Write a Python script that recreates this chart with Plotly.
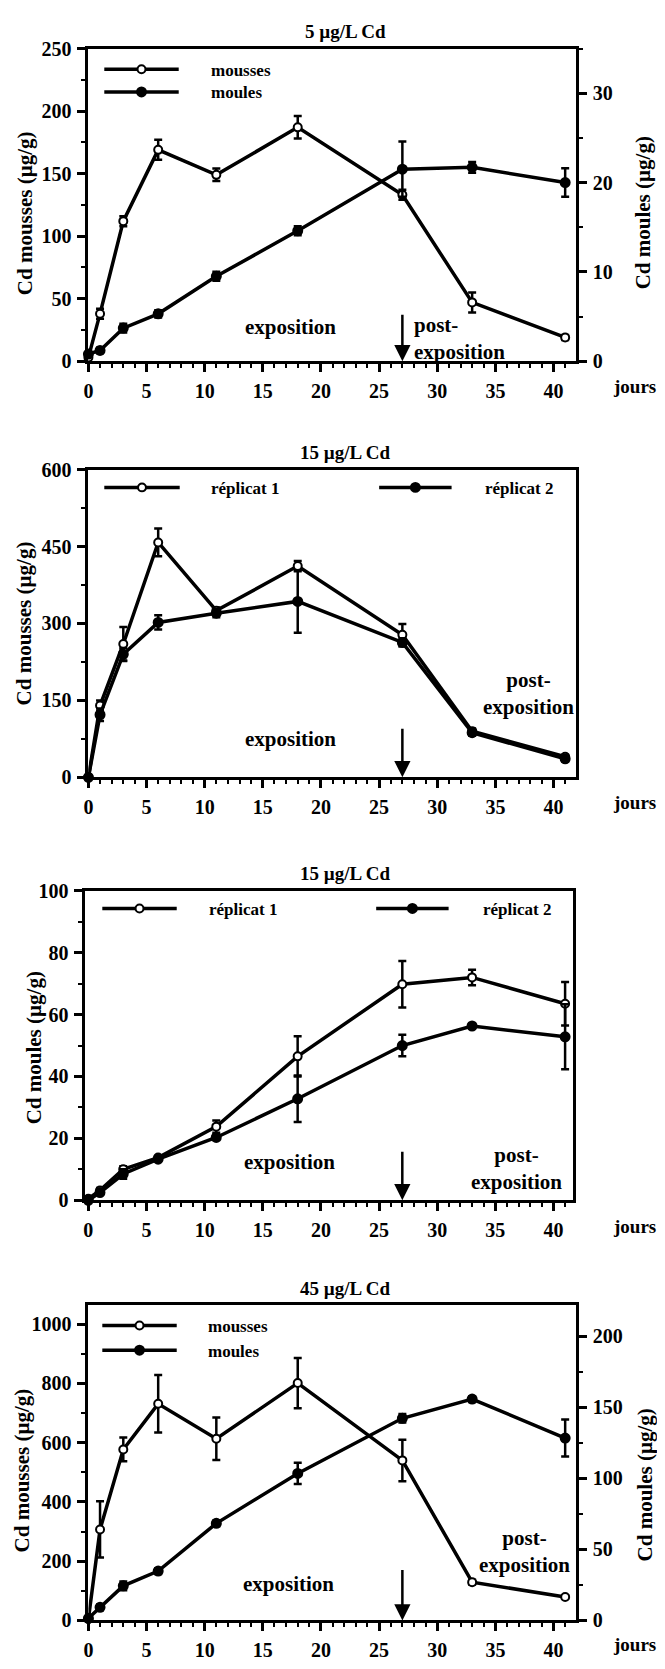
import plotly.graph_objects as go

# the page body keeps its default 8px margin, so the figure is 16px smaller
# than the window and every position below is given in window pixels
PAGE_W, PAGE_H = 665, 1669
OFF = 8
W, H = PAGE_W - 2 * OFF, PAGE_H - 2 * OFF

days = [0, 1, 3, 6, 11, 18, 27, 33, 41]

# panel 1 : 5 µg/L Cd, mousses (left axis) and moules (right axis)
mousses_5 = [3, 38, 112, 169, 149, 187, 133, 47, 19]
mousses_5_err = [0, 4, 4, 8, 5, 9, 4, 8, 2]
moules_5 = [0.8, 1.2, 3.7, 5.3, 9.5, 14.6, 21.5, 21.7, 20.0]
moules_5_err = [0, 0.3, 0.5, 0.4, 0.5, 0.5, 3.1, 0.6, 1.6]

# panel 2 : 15 µg/L Cd, mousses, two replicates
mousses_15_r1 = [0, 140, 260, 458, 325, 412, 278, 90, 40]
mousses_15_r1_err = [0, 10, 33, 27, 6, 10, 21, 5, 4]
mousses_15_r2 = [0, 122, 240, 302, 320, 343, 263, 87, 36]
mousses_15_r2_err = [0, 12, 12, 14, 8, 61, 8, 6, 5]

# panel 3 : 15 µg/L Cd, moules, two replicates
moules_15_r1 = [0.5, 3.2, 10, 13.8, 23.8, 46.5, 69.8, 72, 63.5]
moules_15_r1_err = [0, 0.8, 1, 0.5, 2, 6.5, 7.5, 2.5, 7]
moules_15_r2 = [0, 2.5, 8.5, 13.3, 20.3, 32.8, 50, 56.3, 52.8]
moules_15_r2_err = [0, 0.5, 1.5, 0.5, 0.8, 7.5, 3.5, 0.8, 10.5]

# panel 4 : 45 µg/L Cd, mousses (left axis) and moules (right axis)
mousses_45 = [5, 307, 577, 731, 613, 801, 540, 129, 79]
mousses_45_err = [0, 95, 40, 97, 72, 85, 70, 8, 6]
moules_45 = [1.5, 9.2, 24.3, 34.7, 68.3, 103.4, 142.2, 155.7, 128.3]
moules_45_err = [0, 2, 3, 2, 2, 7.5, 3, 2, 13]

titles = ["5 µg/L Cd", "15 µg/L Cd", "15 µg/L Cd", "45 µg/L Cd"]

FONT = "Liberation Serif"


def px(x):
    return (x - OFF) / W


def py(y):
    return 1 - (y - OFF) / H


def series(fig, y, err, xa, ya, filled):
    fig.add_trace(go.Scatter(
        x=days, y=y, xaxis=xa, yaxis=ya, mode="lines+markers",
        line=dict(color="black", width=3.5),
        marker=dict(symbol="circle", size=9 if filled else 8,
                    color="black" if filled else "white",
                    line=dict(color="black", width=2)),
        error_y=dict(type="data", array=err, color="black", thickness=2.5, width=4),
        cliponaxis=False, showlegend=False,
    ))


fig = go.Figure()
series(fig, mousses_5, mousses_5_err, "x", "y", False)
series(fig, moules_5, moules_5_err, "x", "y5", True)
series(fig, mousses_15_r1, mousses_15_r1_err, "x2", "y2", False)
series(fig, mousses_15_r2, mousses_15_r2_err, "x2", "y2", True)
series(fig, moules_15_r1, moules_15_r1_err, "x3", "y3", False)
series(fig, moules_15_r2, moules_15_r2_err, "x3", "y3", True)
series(fig, mousses_45, mousses_45_err, "x4", "y4", False)
series(fig, moules_45, moules_45_err, "x4", "y6", True)

# panel boxes in window pixels: (top, bottom) and (left, right)
panels = [(38, 355), (465, 777), (892, 1206), (1312, 1632)]
xext = [(84, 575), (84, 575), (81, 572), (84, 575)]
xranges = [[0, 41.9], [0, 41.9], [-0.25, 41.65], [0, 41.9]]

axis_style = dict(
    showline=True, linecolor="black", linewidth=3, showgrid=False, zeroline=False,
    ticks="outside", ticklen=8, tickwidth=2.5, tickcolor="black",
    tickfont=dict(size=20, family=FONT, color="black", weight="bold"),
)

yconf = [
    dict(range=[0, 250], dtick=50, minor=25, mirror=False),
    dict(range=[0, 600], dtick=150, minor=75, mirror=True),
    dict(range=[0, 100], dtick=20, minor=10, mirror=True),
    dict(range=[0, 1065], dtick=200, minor=100, mirror=False),
]

layout = {}
for i, ((top, bot), (xl, xr), xr_, yc) in enumerate(zip(panels, xext, xranges, yconf), start=1):
    sfx = "" if i == 1 else str(i)
    layout["xaxis" + sfx] = dict(
        axis_style, domain=[px(xl), px(xr)], range=xr_, anchor="y" + sfx,
        tick0=0, dtick=5, mirror=True, ticklabelstandoff=2,
        minor=dict(dtick=1, tick0=0, ticks="outside", ticklen=4, tickwidth=2, tickcolor="black"),
    )
    layout["yaxis" + sfx] = dict(
        axis_style, domain=[py(bot), py(top)], range=yc["range"], anchor="x" + sfx,
        tick0=0, dtick=yc["dtick"], mirror=yc["mirror"], ticklabelstandoff=2,
        minor=dict(dtick=yc["minor"], tick0=0, ticks="outside", ticklen=4, tickwidth=2, tickcolor="black"),
    )

layout["yaxis5"] = dict(
    axis_style, overlaying="y", side="right", anchor="x", range=[0, 35], tick0=0, dtick=10,
    ticklabelstandoff=2,
    minor=dict(dtick=5, tick0=0, ticks="outside", ticklen=4, tickwidth=2, tickcolor="black"),
)
layout["yaxis6"] = dict(
    axis_style, overlaying="y4", side="right", anchor="x4", range=[0, 222], tick0=0, dtick=50,
    ticklabelstandoff=2,
    minor=dict(dtick=25, tick0=0, ticks="outside", ticklen=4, tickwidth=2, tickcolor="black"),
)

fig.update_layout(
    width=W, height=H, margin=dict(l=0, r=0, t=0, b=0),
    paper_bgcolor="white", plot_bgcolor="white",
    font=dict(family=FONT, color="black", size=20, weight="bold"),
    **layout,
)

ann = []
shapes = []


def text(x, y, s, size=20, xanchor="center", align="center", angle=0):
    ann.append(dict(x=px(x), y=py(y), xref="paper", yref="paper", text=s, showarrow=False,
                    xanchor=xanchor, yanchor="middle", align=align, textangle=angle,
                    font=dict(size=size, family=FONT, color="black", weight="bold")))


# titles
for t, ty in zip(titles, [21, 448, 875, 1295]):
    text(343, ty, t, size=19)

# "jours"
for ty in [381, 803, 1233, 1656]:
    text(634, ty, "jours", size=19)

# y axis titles
text(20, 205, "Cd mousses (µg/g)", size=21, angle=-90)
text(20, 621, "Cd mousses (µg/g)", size=21, angle=-90)
text(30, 1051, "Cd moules (µg/g)", size=21, angle=-90)
text(17, 1480, "Cd mousses (µg/g)", size=21, angle=-90)
text(643, 205, "Cd moules (µg/g)", size=21, angle=-90)
text(645, 1495, "Cd moules (µg/g)", size=21, angle=-90)

# phase labels
text(288, 320, "exposition", size=21)
text(410, 332, "post-<br>exposition", size=21, xanchor="left", align="left")
text(288, 738, "exposition", size=21)
text(528, 692, "post-<br>exposition", size=21)
text(287, 1167, "exposition", size=21)
text(515, 1174, "post-<br>exposition", size=21)
text(286, 1595, "exposition", size=21)
text(523, 1562, "post-<br>exposition", size=21)

# arrows marking end of exposure (day 27)
for xa, ya, length in [("x", "y", 48), ("x2", "y2", 50), ("x3", "y3", 50), ("x4", "y4", 52)]:
    ann.append(dict(x=27, y=0, xref=xa, yref=ya, ax=0, ay=-length, showarrow=True,
                    arrowhead=2, arrowsize=1.3, arrowwidth=2.5, arrowcolor="black",
                    standoff=0, text=""))


# legends (line segment with marker, then label)
def legend_item(x0, x1, y, label, filled, tx):
    shapes.append(dict(type="line", xref="paper", yref="paper", x0=px(x0), x1=px(x1),
                       y0=py(y), y1=py(y), line=dict(color="black", width=3.5)))
    cx = (x0 + x1) / 2
    r = 4.5 if filled else 4
    shapes.append(dict(type="circle", xref="paper", yref="paper",
                       x0=px(cx - r), x1=px(cx + r), y0=py(y + r), y1=py(y - r),
                       fillcolor="black" if filled else "white",
                       line=dict(color="black", width=2)))
    text(tx, y + 1, label, size=17, xanchor="left")


legend_item(100, 175, 59, "mousses", False, 206)
legend_item(100, 175, 82, "moules", True, 206)
legend_item(100, 176, 483, "réplicat 1", False, 206)
legend_item(377, 450, 483, "réplicat 2", True, 482)
legend_item(98, 173, 910, "réplicat 1", False, 204)
legend_item(374, 447, 910, "réplicat 2", True, 480)
legend_item(98, 173, 1333, "mousses", False, 202)
legend_item(98, 173, 1358, "moules", True, 202)

fig.update_layout(annotations=ann, shapes=shapes)
fig.write_html("out.html")
